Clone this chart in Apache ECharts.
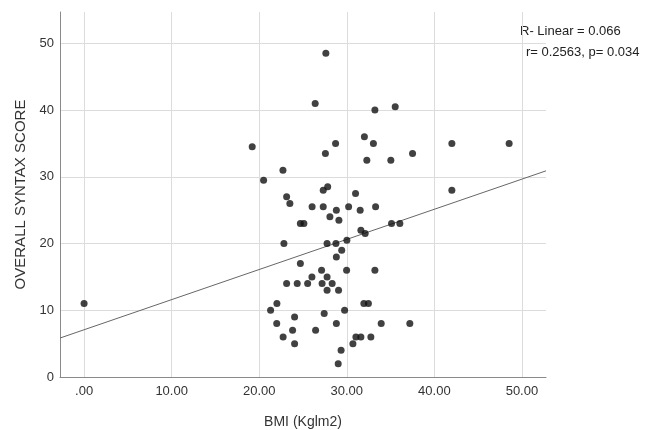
<!DOCTYPE html>
<html lang="en">
<head>
    <meta charset="UTF-8">
    <title>BMI vs SYNTAX</title>
    <script src="https://cdn.jsdelivr.net/npm/echarts@6.0.0/dist/echarts.min.js"></script>
    <style>
        body{
            margin: 0;
            background-color: white;
        }
        #main{
            width: 663px;
            height: 430px;
        }
    </style>
</head>
<body>
    <div id="main"></div>
</body>
<script>
    // BMI (x) and overall SYNTAX score (y)
    var bmi = [27.61, 26.39, 33.21, 35.53, 19.20, 32.01, 33.04, 28.72, 42.00, 48.54,
        27.56, 32.29, 35.03, 37.51, 22.71, 20.50, 27.31, 27.82, 31.00, 42.00,
        23.13, 23.50, 26.04, 27.31, 28.81, 30.21, 31.53, 33.29, 28.07, 29.10,
        24.70, 25.10, 35.11, 36.06, 31.61, 32.10, 22.82, 27.75, 28.76, 30.01,
        29.42, 28.81, 24.70, 27.12, 29.98, 33.21, 26.02, 27.75, 23.13, 24.34,
        25.53, 27.18, 28.33, 27.75, 29.06, 22.02, 21.30, 31.95, 32.47, 24.04,
        27.42, 29.75, 22.00, 28.81, 33.93, 37.20, 23.81, 26.44, 22.73, 31.04,
        31.61, 32.75, 24.04, 30.70, 29.35, 29.02, 0.00];
    var syntax = [48.5, 41, 40, 40.5, 34.5, 36, 35, 35, 35, 35,
        33.5, 32.5, 32.5, 33.5, 31, 29.5, 28, 28.5, 27.5, 28,
        27, 26, 25.5, 25.5, 25, 25.5, 25, 25.5, 24, 23.5,
        23, 23, 23, 23, 22, 21.5, 20, 20, 20, 20.5,
        19, 18, 17, 16, 16, 16, 15, 15, 14, 14,
        14, 14, 14, 13, 13, 11, 10, 11, 11, 9,
        9.5, 10, 8, 8, 8, 8, 7, 7, 6, 6,
        6, 6, 5, 5, 4, 2, 11];
    var xTicks = [0, 10, 20, 30, 40, 50];
    var yTicks = [0, 10, 20, 30, 40, 50];
    var xRange = [-2.75, 52.75];
    var yRange = [0, 54.7];
    // fit line
    var intercept = 7.08, slope = 0.4515;
    var fitText = ['R- Linear = 0.066', 'r= 0.2563, p= 0.034'];

    var points = [];
    for (var i = 0; i < bmi.length; i++) {
        points.push([bmi[i], syntax[i]]);
    }
    var fitLine = [
        [xRange[0], intercept + slope * xRange[0]],
        [xRange[1], intercept + slope * xRange[1]]
    ];

    var font = 'Liberation Sans, Arial, sans-serif';
    var chart = echarts.init(document.getElementById('main'));
    var option = {
        animation: false,
        grid: {
            left: 60,
            top: 12,
            right: 117,
            bottom: 53,
            outerBoundsMode: 'none'
        },
        xAxis: {
            type: 'value',
            min: xRange[0],
            max: xRange[1],
            name: 'BMI (Kglm2)',
            nameLocation: 'middle',
            nameGap: 38,
            nameTextStyle: { fontFamily: font, fontSize: 14, color: '#333' },
            axisLine: { show: true, onZero: false, lineStyle: { color: '#8a8a8a', width: 1 } },
            axisTick: { show: false, customValues: xTicks },
            axisLabel: {
                customValues: xTicks,
                fontFamily: font,
                fontSize: 13,
                color: '#333',
                margin: 8,
                formatter: function (v) { return v === 0 ? '.00' : v.toFixed(2); }
            },
            splitLine: { show: true, lineStyle: { color: '#dcdcdc', width: 1 } }
        },
        yAxis: {
            type: 'value',
            min: yRange[0],
            max: yRange[1],
            name: 'OVERALL SYNTAX SCORE',
            nameLocation: 'middle',
            nameGap: 32,
            nameTextStyle: { fontFamily: font, fontSize: 15, color: '#333' },
            axisLine: { show: true, onZero: false, lineStyle: { color: '#8a8a8a', width: 1 } },
            axisTick: { show: false, customValues: yTicks },
            axisLabel: {
                customValues: yTicks,
                fontFamily: font,
                fontSize: 13,
                color: '#333',
                margin: 6
            },
            splitLine: { show: true, lineStyle: { color: '#dcdcdc', width: 1 } }
        },
        graphic: [
            {
                type: 'text',
                left: 520,
                top: 25,
                style: { text: fitText[0], font: '13px ' + font, fill: '#222' }
            },
            {
                type: 'text',
                left: 526,
                top: 46,
                style: { text: fitText[1], font: '13px ' + font, fill: '#222' }
            }
        ],
        series: [
            {
                type: 'line',
                data: fitLine,
                showSymbol: false,
                silent: true,
                lineStyle: { color: '#666', width: 1 },
                z: 1
            },
            {
                type: 'scatter',
                data: points,
                symbolSize: 7,
                itemStyle: { color: '#111' },
                z: 2
            }
        ]
    };
    chart.setOption(option);
</script>
</html>
